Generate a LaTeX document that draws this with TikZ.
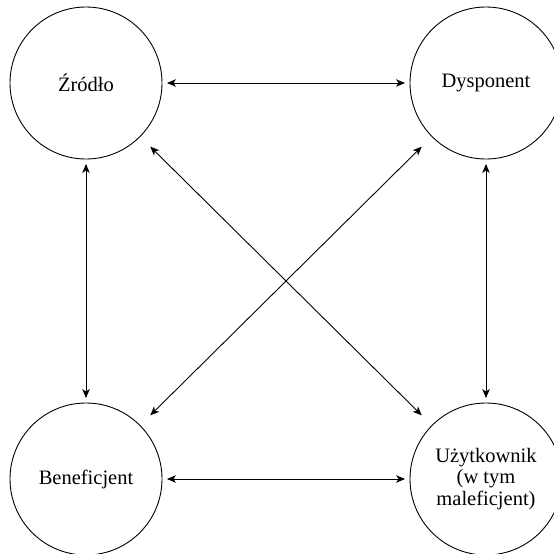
\documentclass[tikz,border=0pt]{standalone}
\usepackage{fontspec}
\setmainfont{Liberation Serif}
\usetikzlibrary{arrows.meta}
\begin{document}
\begin{tikzpicture}[x=1pt,y=-1pt,
  role/.style={draw, circle, line width=0.9pt, minimum size=152pt, inner sep=0pt,
    align=center, font=\fontsize{20.5}{21.5}\selectfont},
  link/.style={line width=0.9pt, {Stealth[length=9pt,width=7.5pt,inset=2.5pt]}-{Stealth[length=9pt,width=7.5pt,inset=2.5pt]}},
  near/.style={shorten <=4.5pt, shorten >=4.5pt},
  far/.style={shorten <=14pt, shorten >=14pt}]
\useasboundingbox (0,0) rectangle (554,554);
\node[role] (zr) at (86,83) {Źródło};
\node[role] (dy) at (486,83) {Dysponent};
\node[role] (be) at (86,479) {Beneficjent};
\node[role] (uz) at (486,479) {Użytkownik\\(w tym\\maleficjent)};
\draw[link,near] (zr) -- (dy);
\draw[link,near] (be) -- (uz);
\draw[link,near] (zr) -- (be);
\draw[link,near] (dy) -- (uz);
\draw[link,far] (zr) -- (uz);
\draw[link,far] (dy) -- (be);
\end{tikzpicture}
\end{document}
